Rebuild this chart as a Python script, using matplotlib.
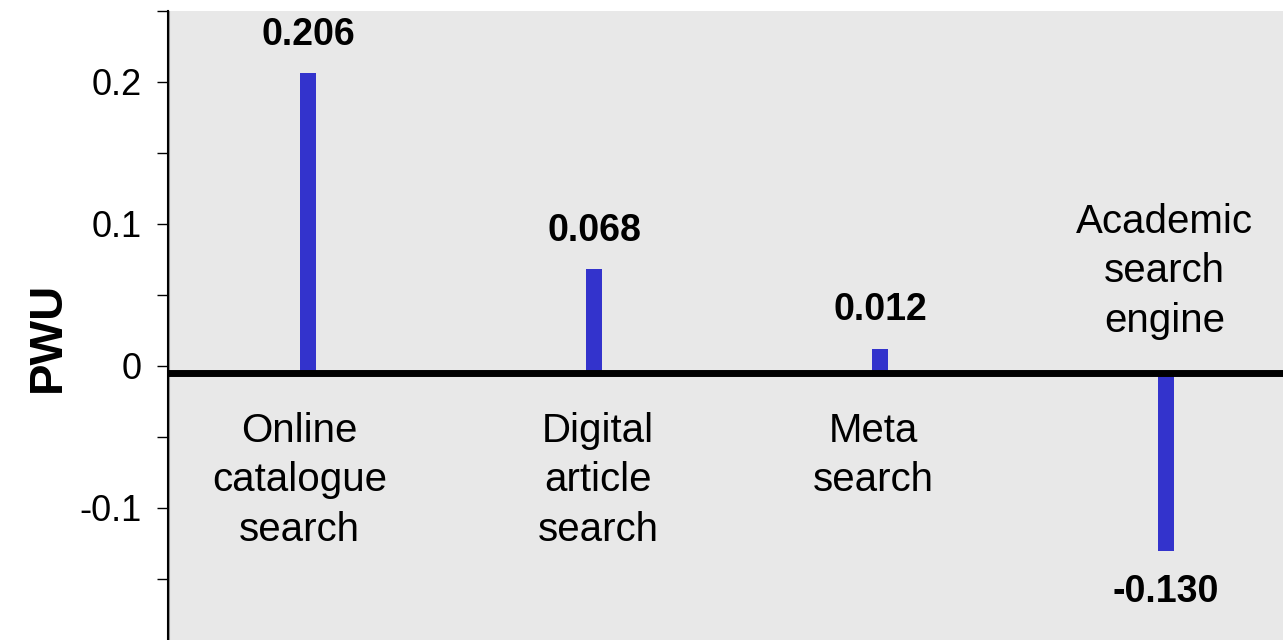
import matplotlib
matplotlib.use("Agg")
import matplotlib.pyplot as plt

# data
categories = ["Online\ncatalogue\nsearch", "Digital\narticle\nsearch",
              "Meta\nsearch", "Academic\nsearch\nengine"]
pwu = [0.206, 0.068, 0.012, -0.130]
tick_values = [0.25, 0.2, 0.15, 0.1, 0.05, 0, -0.05, -0.1, -0.15]
tick_labels = ["", "0.2", "", "0.1", "", "0", "", "-0.1", ""]

# small horizontal nudges of the category names (points)
name_shift = [-6, 3, -5, -1]

plt.rcParams["font.family"] = ["Liberation Sans", "DejaVu Sans"]

fig = plt.figure(figsize=(12.83, 6.4), dpi=100)
ax = fig.add_axes([168 / 1283, 0.0, 1 - 168 / 1283, 1 - 11 / 640])
ax.set_facecolor("#e8e8e8")

base = -0.005  # the thick axis line sits a little below the 0 tick
x = list(range(len(pwu)))
ax.bar(x, [v - base for v in pwu], bottom=base, width=0.056, color="#3333cc", zorder=2)
ax.axhline(base, color="black", linewidth=5, zorder=3)

ax.set_xlim(-0.49, 3.41)
ax.set_ylim(-0.193, 0.25)
ax.set_xticks([])
ax.set_yticks(tick_values)
ax.set_yticklabels(tick_labels, fontsize=26)
ax.tick_params(axis="y", direction="out", length=8, width=1, pad=11)

for s in ["top", "right", "bottom"]:
    ax.spines[s].set_visible(False)
ax.spines["left"].set_linewidth(1.5)
ax.axvline(-0.485, color="#999999", linewidth=1.5, zorder=1)

# value labels and category names
for i, v in enumerate(pwu):
    off = 28 if v > 0 else -30
    ax.annotate(f"{v:.3f}", (i, v), xytext=(0, off), textcoords="offset points",
                ha="center", va="center", fontsize=27, fontweight="bold")
    if v > 0:
        ax.annotate(categories[i], (i, 0), xytext=(name_shift[i], -33),
                    textcoords="offset points",
                    ha="center", va="top", fontsize=29, linespacing=1.38)
    else:
        ax.annotate(categories[i], (i, 0), xytext=(name_shift[i], 19),
                    textcoords="offset points",
                    ha="center", va="bottom", fontsize=29, linespacing=1.38)

fig.text(48 / 1283, 1 - 337 / 640, "PWU", rotation=90, ha="center", va="center",
         fontsize=34, fontweight="bold")

fig.savefig("out.png", dpi=100)
